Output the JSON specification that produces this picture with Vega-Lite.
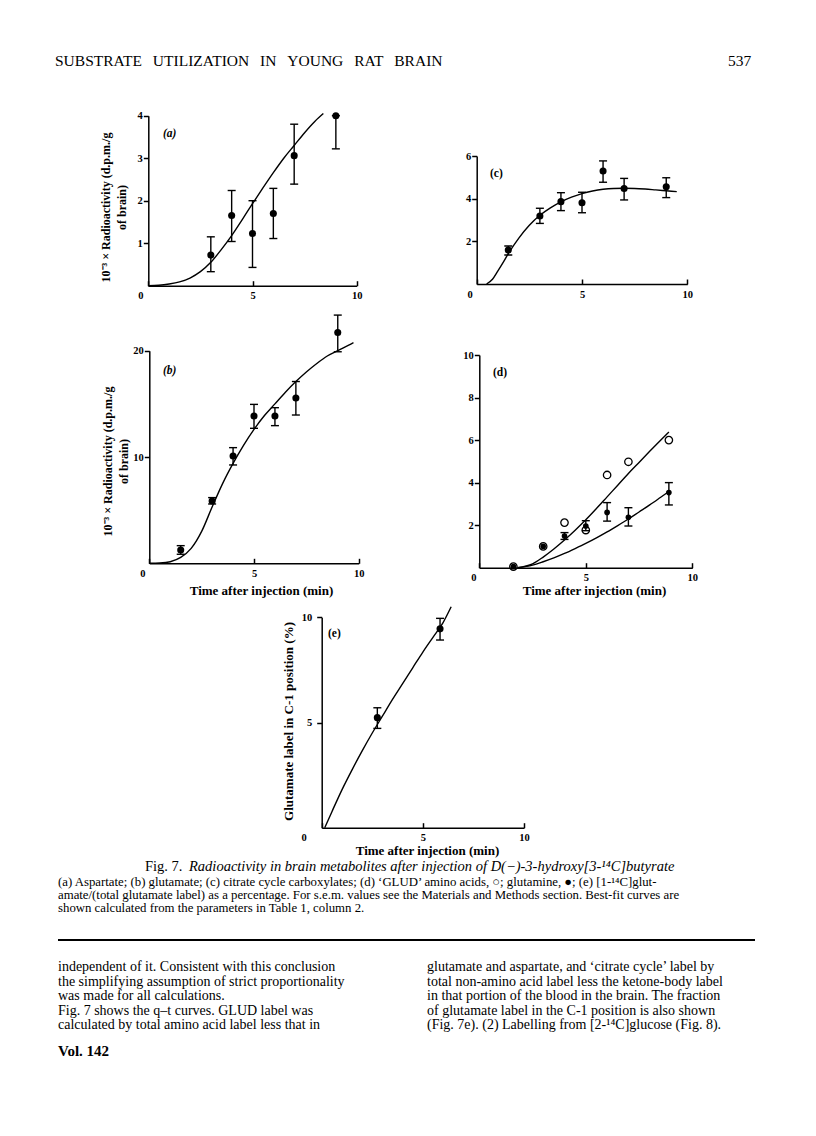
{
  "$schema": "https://vega.github.io/schema/vega-lite/v6.json",
  "width": 816,
  "height": 1136,
  "autosize": "none",
  "padding": 0,
  "background": "white",
  "config": {
    "view": {"stroke": null},
    "font": "Liberation Serif",
    "axis": {
      "grid": false,
      "format": "d",
      "domainColor": "black",
      "domainWidth": 1.5,
      "tickColor": "black",
      "tickWidth": 1.5,
      "labelColor": "black",
      "labelFont": "Liberation Serif",
      "labelFontSize": 10.5,
      "labelFontWeight": "bold",
      "labelFlush": false,
      "labelOverlap": false,
      "titleColor": "black",
      "titleFont": "Liberation Serif",
      "titleFontWeight": "bold",
      "titleFontSize": 12.5
    },
    "text": {"font": "Liberation Serif", "color": "black"}
  },
  "datasets": {
    "a_curve": [
      {"t": 0, "v": 0}, {"t": 0.5, "v": 0.01}, {"t": 1, "v": 0.04}, {"t": 1.5, "v": 0.09},
      {"t": 2, "v": 0.18}, {"t": 2.5, "v": 0.33}, {"t": 3, "v": 0.55}, {"t": 3.5, "v": 0.85},
      {"t": 4, "v": 1.18}, {"t": 4.5, "v": 1.55}, {"t": 5, "v": 1.93}, {"t": 5.5, "v": 2.3},
      {"t": 6, "v": 2.66}, {"t": 6.5, "v": 3.0}, {"t": 7, "v": 3.3}, {"t": 7.5, "v": 3.6},
      {"t": 8, "v": 3.87}, {"t": 8.4, "v": 4.05}
    ],
    "a_pts": [
      {"t": 3, "v": 0.72, "lo": 0.33, "hi": 1.15},
      {"t": 4, "v": 1.65, "lo": 1.04, "hi": 2.24},
      {"t": 5, "v": 1.23, "lo": 0.43, "hi": 2.0},
      {"t": 6, "v": 1.7, "lo": 1.11, "hi": 2.29},
      {"t": 7, "v": 3.06, "lo": 2.39, "hi": 3.8},
      {"t": 9, "v": 4.0, "lo": 3.22, "hi": 4.0}
    ],
    "b_curve": [
      {"t": 0, "v": 0}, {"t": 0.5, "v": 0.03}, {"t": 1, "v": 0.15}, {"t": 1.5, "v": 0.55},
      {"t": 2, "v": 1.4}, {"t": 2.5, "v": 3.0}, {"t": 3, "v": 5.3}, {"t": 3.5, "v": 7.5},
      {"t": 4, "v": 9.4}, {"t": 4.5, "v": 11.1}, {"t": 5, "v": 12.6}, {"t": 5.5, "v": 13.9},
      {"t": 6, "v": 15.0}, {"t": 6.5, "v": 16.1}, {"t": 7, "v": 17.1}, {"t": 7.5, "v": 18.0},
      {"t": 8, "v": 18.8}, {"t": 8.5, "v": 19.5}, {"t": 9, "v": 20.0}, {"t": 9.5, "v": 20.5},
      {"t": 9.75, "v": 20.75}
    ],
    "b_pts": [
      {"t": 1.5, "v": 1.25, "lo": 0.85, "hi": 1.66},
      {"t": 3, "v": 5.86, "lo": 5.58, "hi": 6.18},
      {"t": 4, "v": 10.09, "lo": 9.25, "hi": 10.88},
      {"t": 5, "v": 13.86, "lo": 12.7, "hi": 14.95},
      {"t": 6, "v": 13.86, "lo": 12.95, "hi": 14.64},
      {"t": 7, "v": 15.55, "lo": 13.95, "hi": 17.1},
      {"t": 9, "v": 21.72, "lo": 19.9, "hi": 23.35}
    ],
    "c_curve": [
      {"t": 0.47, "v": 0}, {"t": 0.75, "v": 0.22}, {"t": 1.0, "v": 0.6}, {"t": 1.25, "v": 1.0},
      {"t": 1.5, "v": 1.42}, {"t": 2.0, "v": 2.15}, {"t": 2.5, "v": 2.75}, {"t": 3.0, "v": 3.22},
      {"t": 3.5, "v": 3.57}, {"t": 4.0, "v": 3.85}, {"t": 4.5, "v": 4.07}, {"t": 5.0, "v": 4.24},
      {"t": 5.5, "v": 4.36}, {"t": 6.0, "v": 4.44}, {"t": 6.5, "v": 4.48}, {"t": 7.0, "v": 4.49},
      {"t": 7.5, "v": 4.48}, {"t": 8.0, "v": 4.45}, {"t": 8.5, "v": 4.41}, {"t": 9.0, "v": 4.37},
      {"t": 9.5, "v": 4.33}
    ],
    "c_pts": [
      {"t": 1.5, "v": 1.59, "lo": 1.36, "hi": 1.78},
      {"t": 3, "v": 3.19, "lo": 2.84, "hi": 3.55},
      {"t": 4, "v": 3.86, "lo": 3.44, "hi": 4.28},
      {"t": 5, "v": 3.81, "lo": 3.34, "hi": 4.3},
      {"t": 6, "v": 5.3, "lo": 4.77, "hi": 5.77},
      {"t": 7, "v": 4.48, "lo": 3.94, "hi": 4.95},
      {"t": 9, "v": 4.56, "lo": 4.05, "hi": 4.98}
    ],
    "d_curve": [
      {"series": "GLUD", "t": 1.8, "v": 0}, {"series": "GLUD", "t": 2.5, "v": 0.18},
      {"series": "GLUD", "t": 3.0, "v": 0.5}, {"series": "GLUD", "t": 3.5, "v": 0.88},
      {"series": "GLUD", "t": 4.0, "v": 1.3}, {"series": "GLUD", "t": 4.5, "v": 1.76},
      {"series": "GLUD", "t": 5.0, "v": 2.25}, {"series": "GLUD", "t": 5.5, "v": 2.78},
      {"series": "GLUD", "t": 6.0, "v": 3.33}, {"series": "GLUD", "t": 6.5, "v": 3.88},
      {"series": "GLUD", "t": 7.0, "v": 4.43}, {"series": "GLUD", "t": 7.5, "v": 4.95},
      {"series": "GLUD", "t": 8.0, "v": 5.47}, {"series": "GLUD", "t": 8.5, "v": 5.98},
      {"series": "GLUD", "t": 8.9, "v": 6.38},
      {"series": "glutamine", "t": 1.8, "v": 0}, {"series": "glutamine", "t": 2.5, "v": 0.12},
      {"series": "glutamine", "t": 3.0, "v": 0.28}, {"series": "glutamine", "t": 3.5, "v": 0.46},
      {"series": "glutamine", "t": 4.0, "v": 0.67}, {"series": "glutamine", "t": 4.5, "v": 0.9},
      {"series": "glutamine", "t": 5.0, "v": 1.14}, {"series": "glutamine", "t": 5.5, "v": 1.4},
      {"series": "glutamine", "t": 6.0, "v": 1.68}, {"series": "glutamine", "t": 6.5, "v": 1.98},
      {"series": "glutamine", "t": 7.0, "v": 2.29}, {"series": "glutamine", "t": 7.5, "v": 2.62},
      {"series": "glutamine", "t": 8.0, "v": 2.95}, {"series": "glutamine", "t": 8.5, "v": 3.3},
      {"series": "glutamine", "t": 8.95, "v": 3.62}
    ],
    "d_open": [
      {"t": 1.6, "v": 0.05}, {"t": 3, "v": 1.0}, {"t": 4, "v": 2.12}, {"t": 5, "v": 1.77},
      {"t": 6, "v": 4.36}, {"t": 7, "v": 4.98}, {"t": 8.9, "v": 6.0}
    ],
    "d_fill": [
      {"t": 1.6, "v": 0.05, "lo": null, "hi": null},
      {"t": 3, "v": 1.0, "lo": null, "hi": null},
      {"t": 4, "v": 1.49, "lo": 1.33, "hi": 1.65},
      {"t": 5, "v": 1.96, "lo": 1.74, "hi": 2.21},
      {"t": 6, "v": 2.6, "lo": 2.19, "hi": 3.06},
      {"t": 7, "v": 2.37, "lo": 1.96, "hi": 2.82},
      {"t": 8.9, "v": 3.53, "lo": 2.95, "hi": 4.0}
    ],
    "e_curve": [
      {"t": 0.15, "v": 0}, {"t": 0.5, "v": 0.75}, {"t": 1.0, "v": 1.8}, {"t": 1.5, "v": 2.75},
      {"t": 2.0, "v": 3.65}, {"t": 2.5, "v": 4.5}, {"t": 3.0, "v": 5.3}, {"t": 3.5, "v": 6.1},
      {"t": 4.0, "v": 6.85}, {"t": 4.5, "v": 7.6}, {"t": 5.0, "v": 8.35}, {"t": 5.5, "v": 9.05},
      {"t": 6.0, "v": 9.75}, {"t": 6.4, "v": 10.5}
    ],
    "e_pts": [
      {"t": 2.75, "v": 5.23, "lo": 4.72, "hi": 5.7},
      {"t": 5.85, "v": 9.45, "lo": 8.92, "hi": 9.95}
    ]
  },
  "layer": [
    {
      "layer": [
        {
          "data": {"name": "a_curve"},
          "mark": {"type": "line", "color": "black", "strokeWidth": 1.4, "interpolate": "monotone"},
          "encoding": {
            "x": {"field": "t", "type": "quantitative", "scale": {"domain": [0, 10], "range": [148.3, 356.7], "nice": false},
              "axis": {"orient": "bottom", "offset": -850.3, "values": [0, 5, 10], "title": null, "tickSize": -5, "labelPadding": 10, "labelBaseline": "top",
                "labelOffset": {"condition": {"test": "datum.value === 0", "value": -8}, "value": 0}}},
            "y": {"field": "v", "type": "quantitative", "scale": {"domain": [0, 4], "range": [285.7, 115.7], "nice": false},
              "axis": {"orient": "left", "offset": -148.3, "values": [1, 2, 3, 4], "tickSize": 5, "labelPadding": 1,
                "title": ["10⁻³ × Radioactivity (d.p.m./g", "of brain)"], "titleFontSize": 12, "titleX": -43, "titleY": 207, "titleAngle": -90, "titleAlign": "center", "titleBaseline": "middle", "titleLineHeight": 16}}
          }
        },
        {"data": {"name": "a_pts"}, "mark": {"type": "rule", "color": "black", "strokeWidth": 1.4},
          "encoding": {"x": {"field": "t", "type": "quantitative"}, "y": {"field": "lo", "type": "quantitative"}, "y2": {"field": "hi"}}},
        {"data": {"name": "a_pts"}, "mark": {"type": "tick", "orient": "horizontal", "color": "black", "size": 8, "thickness": 1.4, "opacity": 1},
          "encoding": {"x": {"field": "t", "type": "quantitative"}, "y": {"field": "lo", "type": "quantitative"}}},
        {"data": {"name": "a_pts"}, "mark": {"type": "tick", "orient": "horizontal", "color": "black", "size": 8, "thickness": 1.4, "opacity": 1},
          "encoding": {"x": {"field": "t", "type": "quantitative"}, "y": {"field": "hi", "type": "quantitative"}}},
        {"data": {"name": "a_pts"}, "mark": {"type": "point", "filled": true, "color": "black", "size": 50, "opacity": 1},
          "encoding": {"x": {"field": "t", "type": "quantitative"}, "y": {"field": "v", "type": "quantitative"}}},
        {"data": {"values": [{}]}, "mark": {"type": "text", "text": "(a)", "fontStyle": "italic", "fontWeight": "bold", "fontSize": 11.5, "align": "left", "baseline": "middle"},
          "encoding": {"x": {"datum": 0.7, "type": "quantitative"}, "y": {"datum": 3.57, "type": "quantitative"}}}
      ]
    },
    {
      "layer": [
        {
          "data": {"name": "c_curve"},
          "mark": {"type": "line", "color": "black", "strokeWidth": 1.4, "interpolate": "monotone"},
          "encoding": {
            "x": {"field": "t", "type": "quantitative", "scale": {"domain": [0, 10], "range": [476.7, 687.3], "nice": false},
              "axis": {"orient": "bottom", "offset": -852, "values": [0, 5, 10], "title": null, "tickSize": -5, "labelPadding": 10, "labelBaseline": "top",
                "labelOffset": {"condition": {"test": "datum.value === 0", "value": -7}, "value": 0}}},
            "y": {"field": "v", "type": "quantitative", "scale": {"domain": [0, 6], "range": [284, 156], "nice": false},
              "axis": {"orient": "left", "offset": -476.7, "values": [2, 4, 6], "tickSize": 5, "labelPadding": 1, "title": null}}
          }
        },
        {"data": {"name": "c_pts"}, "mark": {"type": "rule", "color": "black", "strokeWidth": 1.4},
          "encoding": {"x": {"field": "t", "type": "quantitative"}, "y": {"field": "lo", "type": "quantitative"}, "y2": {"field": "hi"}}},
        {"data": {"name": "c_pts"}, "mark": {"type": "tick", "orient": "horizontal", "color": "black", "size": 8, "thickness": 1.4, "opacity": 1},
          "encoding": {"x": {"field": "t", "type": "quantitative"}, "y": {"field": "lo", "type": "quantitative"}}},
        {"data": {"name": "c_pts"}, "mark": {"type": "tick", "orient": "horizontal", "color": "black", "size": 8, "thickness": 1.4, "opacity": 1},
          "encoding": {"x": {"field": "t", "type": "quantitative"}, "y": {"field": "hi", "type": "quantitative"}}},
        {"data": {"name": "c_pts"}, "mark": {"type": "point", "filled": true, "color": "black", "size": 50, "opacity": 1},
          "encoding": {"x": {"field": "t", "type": "quantitative"}, "y": {"field": "v", "type": "quantitative"}}},
        {"data": {"values": [{}]}, "mark": {"type": "text", "text": "(c)", "fontStyle": "normal", "fontWeight": "bold", "fontSize": 11.5, "align": "left", "baseline": "middle"},
          "encoding": {"x": {"datum": 0.63, "type": "quantitative"}, "y": {"datum": 5.16, "type": "quantitative"}}}
      ]
    },
    {
      "layer": [
        {
          "data": {"name": "b_curve"},
          "mark": {"type": "line", "color": "black", "strokeWidth": 1.4, "interpolate": "monotone"},
          "encoding": {
            "x": {"field": "t", "type": "quantitative", "scale": {"domain": [0, 10], "range": [149.3, 358.7], "nice": false},
              "axis": {"orient": "bottom", "offset": -572.7, "values": [0, 5, 10], "tickSize": -5, "labelPadding": 10, "labelBaseline": "top",
                "labelOffset": {"condition": {"test": "datum.value === 0", "value": -7}, "value": 0},
                "title": "Time after injection (min)", "titleFontSize": 13, "titleX": 261, "titleY": 26.7, "titleAlign": "center", "titleBaseline": "middle"}},
            "y": {"field": "v", "type": "quantitative", "scale": {"domain": [0, 20], "range": [563.3, 350.7], "nice": false},
              "axis": {"orient": "left", "offset": -149.3, "values": [10, 20], "tickSize": 5, "labelPadding": 1,
                "title": ["10⁻³ × Radioactivity (d.p.m./g", "of brain)"], "titleFontSize": 12, "titleX": -42, "titleY": 461, "titleAngle": -90, "titleAlign": "center", "titleBaseline": "middle", "titleLineHeight": 16}}
          }
        },
        {"data": {"name": "b_pts"}, "mark": {"type": "rule", "color": "black", "strokeWidth": 1.4},
          "encoding": {"x": {"field": "t", "type": "quantitative"}, "y": {"field": "lo", "type": "quantitative"}, "y2": {"field": "hi"}}},
        {"data": {"name": "b_pts"}, "mark": {"type": "tick", "orient": "horizontal", "color": "black", "size": 8, "thickness": 1.4, "opacity": 1},
          "encoding": {"x": {"field": "t", "type": "quantitative"}, "y": {"field": "lo", "type": "quantitative"}}},
        {"data": {"name": "b_pts"}, "mark": {"type": "tick", "orient": "horizontal", "color": "black", "size": 8, "thickness": 1.4, "opacity": 1},
          "encoding": {"x": {"field": "t", "type": "quantitative"}, "y": {"field": "hi", "type": "quantitative"}}},
        {"data": {"name": "b_pts"}, "mark": {"type": "point", "filled": true, "color": "black", "size": 50, "opacity": 1},
          "encoding": {"x": {"field": "t", "type": "quantitative"}, "y": {"field": "v", "type": "quantitative"}}},
        {"data": {"values": [{}]}, "mark": {"type": "text", "text": "(b)", "fontStyle": "italic", "fontWeight": "bold", "fontSize": 11.5, "align": "left", "baseline": "middle"},
          "encoding": {"x": {"datum": 0.65, "type": "quantitative"}, "y": {"datum": 18.1, "type": "quantitative"}}}
      ]
    },
    {
      "layer": [
        {
          "data": {"name": "d_curve"},
          "mark": {"type": "line", "color": "black", "strokeWidth": 1.4, "interpolate": "monotone"},
          "encoding": {
            "detail": {"field": "series", "type": "nominal"},
            "x": {"field": "t", "type": "quantitative", "scale": {"domain": [0, 10], "range": [479.3, 692.3], "nice": false},
              "axis": {"orient": "bottom", "offset": -568.3, "values": [0, 5, 10], "tickSize": -5, "labelPadding": 10, "labelBaseline": "top",
                "labelOffset": {"condition": {"test": "datum.value === 0", "value": -6}, "value": 0},
                "title": "Time after injection (min)", "titleFontSize": 13, "titleX": 594, "titleY": 22.3, "titleAlign": "center", "titleBaseline": "middle"}},
            "y": {"field": "v", "type": "quantitative", "scale": {"domain": [0, 10], "range": [567.7, 355], "nice": false},
              "axis": {"orient": "left", "offset": -479.3, "values": [2, 4, 6, 8, 10], "tickSize": 5, "labelPadding": 1, "title": null}}
          }
        },
        {"data": {"name": "d_fill"}, "transform": [{"filter": "datum.lo != null"}], "mark": {"type": "rule", "color": "black", "strokeWidth": 1.4},
          "encoding": {"x": {"field": "t", "type": "quantitative"}, "y": {"field": "lo", "type": "quantitative"}, "y2": {"field": "hi"}}},
        {"data": {"name": "d_fill"}, "transform": [{"filter": "datum.lo != null"}], "mark": {"type": "tick", "orient": "horizontal", "color": "black", "size": 8, "thickness": 1.4, "opacity": 1},
          "encoding": {"x": {"field": "t", "type": "quantitative"}, "y": {"field": "lo", "type": "quantitative"}}},
        {"data": {"name": "d_fill"}, "transform": [{"filter": "datum.hi != null"}], "mark": {"type": "tick", "orient": "horizontal", "color": "black", "size": 8, "thickness": 1.4, "opacity": 1},
          "encoding": {"x": {"field": "t", "type": "quantitative"}, "y": {"field": "hi", "type": "quantitative"}}},
        {"data": {"name": "d_open"}, "mark": {"type": "point", "filled": false, "color": "black", "strokeWidth": 1.3, "size": 55, "opacity": 1, "fill": "white", "fillOpacity": 0},
          "encoding": {"x": {"field": "t", "type": "quantitative"}, "y": {"field": "v", "type": "quantitative"}}},
        {"data": {"name": "d_fill"}, "mark": {"type": "point", "filled": true, "color": "black", "size": 32, "opacity": 1},
          "encoding": {"x": {"field": "t", "type": "quantitative"}, "y": {"field": "v", "type": "quantitative"}}},
        {"data": {"values": [{}]}, "mark": {"type": "text", "text": "(d)", "fontStyle": "normal", "fontWeight": "bold", "fontSize": 11.5, "align": "left", "baseline": "middle"},
          "encoding": {"x": {"datum": 0.64, "type": "quantitative"}, "y": {"datum": 9.15, "type": "quantitative"}}}
      ]
    },
    {
      "layer": [
        {
          "data": {"name": "e_curve"},
          "mark": {"type": "line", "color": "black", "strokeWidth": 1.4, "interpolate": "monotone"},
          "encoding": {
            "x": {"field": "t", "type": "quantitative", "scale": {"domain": [0, 10], "range": [321.7, 524], "nice": false},
              "axis": {"orient": "bottom", "offset": -308.3, "values": [0, 5, 10], "tickSize": -5, "labelPadding": 10, "labelBaseline": "top",
                "labelOffset": {"condition": {"test": "datum.value === 0", "value": -18}, "value": 0},
                "title": "Time after injection (min)", "titleFontSize": 13, "titleX": 427, "titleY": 22.3, "titleAlign": "center", "titleBaseline": "middle"}},
            "y": {"field": "v", "type": "quantitative", "scale": {"domain": [0, 10], "range": [827.7, 617.3], "nice": false},
              "axis": {"orient": "left", "offset": -321.7, "values": [5, 10], "tickSize": 5, "labelPadding": 5,
                "title": "Glutamate label in C-1 position (%)", "titleFontSize": 13, "titleX": -33.7, "titleY": 721, "titleAngle": -90, "titleAlign": "center", "titleBaseline": "middle"}}
          }
        },
        {"data": {"name": "e_pts"}, "mark": {"type": "rule", "color": "black", "strokeWidth": 1.4},
          "encoding": {"x": {"field": "t", "type": "quantitative"}, "y": {"field": "lo", "type": "quantitative"}, "y2": {"field": "hi"}}},
        {"data": {"name": "e_pts"}, "mark": {"type": "tick", "orient": "horizontal", "color": "black", "size": 8, "thickness": 1.4, "opacity": 1},
          "encoding": {"x": {"field": "t", "type": "quantitative"}, "y": {"field": "lo", "type": "quantitative"}}},
        {"data": {"name": "e_pts"}, "mark": {"type": "tick", "orient": "horizontal", "color": "black", "size": 8, "thickness": 1.4, "opacity": 1},
          "encoding": {"x": {"field": "t", "type": "quantitative"}, "y": {"field": "hi", "type": "quantitative"}}},
        {"data": {"name": "e_pts"}, "mark": {"type": "point", "filled": true, "color": "black", "size": 50, "opacity": 1},
          "encoding": {"x": {"field": "t", "type": "quantitative"}, "y": {"field": "v", "type": "quantitative"}}},
        {"data": {"values": [{}]}, "mark": {"type": "text", "text": "(e)", "fontStyle": "normal", "fontWeight": "bold", "fontSize": 11.5, "align": "left", "baseline": "middle"},
          "encoding": {"x": {"datum": 0.31, "type": "quantitative"}, "y": {"datum": 9.2, "type": "quantitative"}}}
      ]
    },
    {
      "data": {"values": [
        {"slot": "title", "text": "SUBSTRATE\u2002\u2009UTILIZATION\u2002\u2009IN\u2002\u2009YOUNG\u2002\u2009RAT\u2002\u2009BRAIN"},
        {"slot": "folio", "text": "537"}
      ]},
      "mark": {"type": "text", "align": "left", "baseline": "alphabetic", "fontSize": 15.5},
      "encoding": {
        "x": {"field": "slot", "type": "nominal", "scale": {"type": "point", "domain": ["title", "folio"], "range": [55, 728], "padding": 0}, "axis": null},
        "y": {"field": "slot", "type": "nominal", "scale": {"type": "point", "domain": ["title", "folio"], "range": [66, 66], "padding": 0}, "axis": null},
        "text": {"field": "text"}
      }
    },
    {
      "data": {"values": [
        {"seg": "label", "text": "Fig. 7."},
        {"seg": "title", "text": "Radioactivity in brain metabolites after injection of D(−)-3-hydroxy[3-¹⁴C]butyrate"}
      ]},
      "encoding": {
        "x": {"field": "seg", "type": "nominal", "scale": {"type": "point", "domain": ["label", "title"], "range": [145, 189], "padding": 0}, "axis": null},
        "y": {"field": "seg", "type": "nominal", "scale": {"type": "point", "domain": ["label", "title"], "range": [871, 871], "padding": 0}, "axis": null},
        "text": {"field": "text"}
      },
      "layer": [
        {"transform": [{"filter": "datum.seg === 'label'"}], "mark": {"type": "text", "align": "left", "baseline": "alphabetic", "fontSize": 14.5}},
        {"transform": [{"filter": "datum.seg === 'title'"}], "mark": {"type": "text", "align": "left", "baseline": "alphabetic", "fontSize": 14.5, "fontStyle": "italic"}}
      ]
    },
    {
      "data": {"values": [
        {"col": "caption", "line": 2, "text": "(a) Aspartate; (b) glutamate; (c) citrate cycle carboxylates; (d) ‘GLUD’ amino acids, ○; glutamine, ●; (e) [1-¹⁴C]glut-"},
        {"col": "caption", "line": 3, "text": "amate/(total glutamate label) as a percentage. For s.e.m. values see the Materials and Methods section. Best-fit curves are"},
        {"col": "caption", "line": 4, "text": "shown calculated from the parameters in Table 1, column 2."}
      ]},
      "mark": {"type": "text", "align": "left", "baseline": "alphabetic", "fontSize": 12.8},
      "encoding": {
        "x": {"field": "col", "type": "nominal", "scale": {"type": "point", "domain": ["caption"], "range": [58, 58], "padding": 0}, "axis": null},
        "y": {"field": "line", "type": "quantitative", "scale": {"domain": [2, 4], "range": [886, 912], "nice": false, "zero": false}, "axis": null},
        "text": {"field": "text"}
      }
    },
    {
      "data": {"values": [{"start": 0, "end": 1, "row": "rule"}]},
      "mark": {"type": "rule", "color": "black", "strokeWidth": 2},
      "encoding": {
        "x": {"field": "start", "type": "quantitative", "scale": {"domain": [0, 1], "range": [58, 755], "nice": false}, "axis": null},
        "x2": {"field": "end"},
        "y": {"field": "row", "type": "nominal", "scale": {"type": "point", "domain": ["rule"], "range": [940, 940], "padding": 0}, "axis": null}
      }
    },
    {
      "data": {"values": [
        {"col": "left", "line": 1, "text": "independent of it. Consistent with this conclusion"},
        {"col": "left", "line": 2, "text": "the simplifying assumption of strict proportionality"},
        {"col": "left", "line": 3, "text": "was made for all calculations."},
        {"col": "left", "line": 4, "text": "\u00a0\u00a0\u00a0Fig. 7 shows the q–t curves. GLUD label was"},
        {"col": "left", "line": 5, "text": "calculated by total amino acid label less that in"},
        {"col": "right", "line": 1, "text": "glutamate and aspartate, and ‘citrate cycle’ label by"},
        {"col": "right", "line": 2, "text": "total non-amino acid label less the ketone-body label"},
        {"col": "right", "line": 3, "text": "in that portion of the blood in the brain. The fraction"},
        {"col": "right", "line": 4, "text": "of glutamate label in the C-1 position is also shown"},
        {"col": "right", "line": 5, "text": "(Fig. 7e). (2) Labelling from [2-¹⁴C]glucose (Fig. 8)."}
      ]},
      "mark": {"type": "text", "align": "left", "baseline": "alphabetic", "fontSize": 14},
      "encoding": {
        "x": {"field": "col", "type": "nominal", "scale": {"type": "point", "domain": ["left", "right"], "range": [58, 427], "padding": 0}, "axis": null},
        "y": {"field": "line", "type": "quantitative", "scale": {"domain": [1, 5], "range": [971, 1029], "nice": false, "zero": false}, "axis": null},
        "text": {"field": "text"}
      }
    },
    {
      "data": {"values": [{"col": "footer", "text": "Vol. 142"}]},
      "mark": {"type": "text", "align": "left", "baseline": "alphabetic", "fontSize": 15, "fontWeight": "bold"},
      "encoding": {
        "x": {"field": "col", "type": "nominal", "scale": {"type": "point", "domain": ["footer"], "range": [58, 58], "padding": 0}, "axis": null},
        "y": {"field": "col", "type": "nominal", "scale": {"type": "point", "domain": ["footer"], "range": [1056, 1056], "padding": 0}, "axis": null},
        "text": {"field": "text"}
      }
    }
  ],
  "resolve": {
    "scale": {"x": "independent", "y": "independent"},
    "axis": {"x": "independent", "y": "independent"}
  }
}
